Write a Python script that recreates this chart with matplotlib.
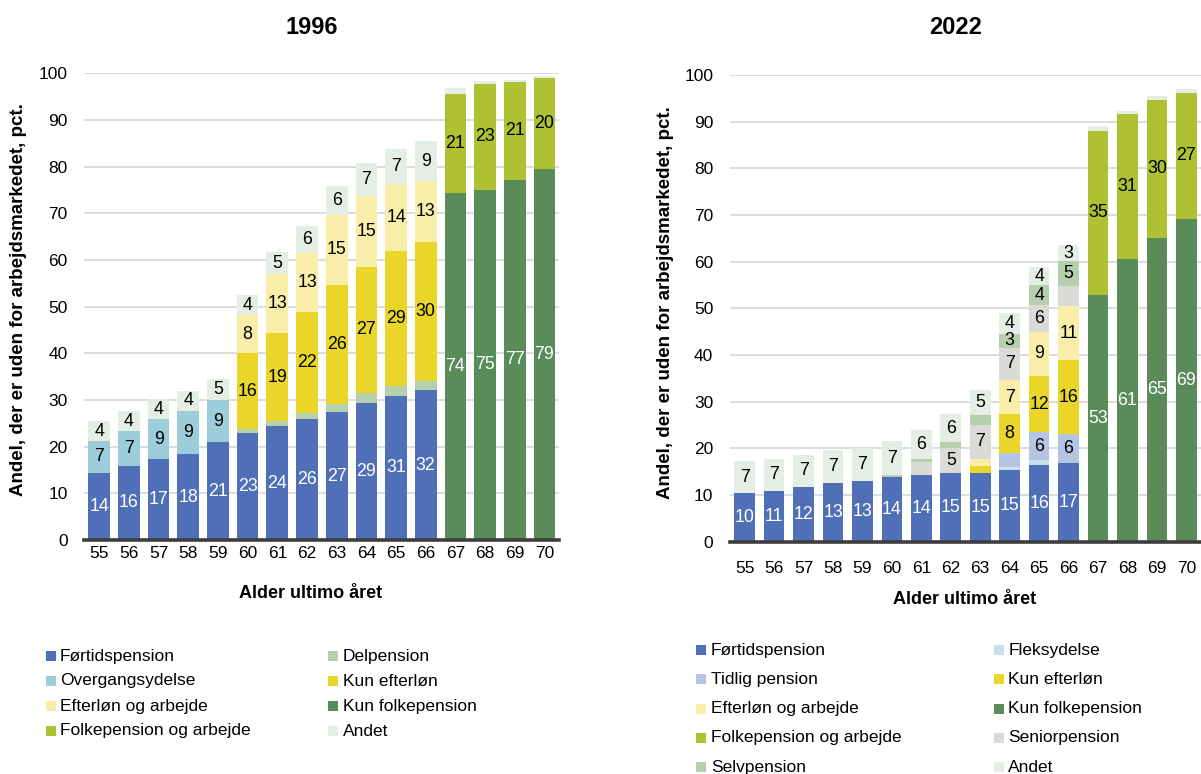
import matplotlib
matplotlib.use("Agg")
import matplotlib.pyplot as plt
from matplotlib.patches import Rectangle
import numpy as np

plt.rcParams['font.family'] = ['Liberation Sans', 'DejaVu Sans']

W, H = 1201, 774

ages = list(range(55, 71))
age_labels = [str(a) for a in ages]

# ---- 1996 (share of each age group outside the labour market, pct.) ----
y96_fortid = [14.4, 15.9, 17.3, 18.4, 20.9, 23.0, 24.4, 25.9, 27.4, 29.4, 30.9, 32.1, 0, 0, 0, 0]
y96_overgang = [6.8, 7.4, 8.6, 9.3, 9.1, 0, 0, 0, 0, 0, 0, 0, 0, 0, 0, 0]
y96_delpension = [0, 0, 0, 0, 0, 0.7, 1.0, 1.3, 1.7, 2.0, 2.1, 2.0, 0, 0, 0, 0]
y96_kun_efterlon = [0, 0, 0, 0, 0, 16.3, 18.9, 21.7, 25.6, 27.2, 28.9, 29.7, 0, 0, 0, 0]
y96_efterlon_arb = [0, 0, 0, 0, 0, 8.2, 12.6, 12.7, 15.0, 15.2, 14.4, 13.1, 0, 0, 0, 0]
y96_kun_folk = [0, 0, 0, 0, 0, 0, 0, 0, 0, 0, 0, 0, 74.3, 75.1, 77.2, 79.4]
y96_folk_arb = [0, 0, 0, 0, 0, 0, 0, 0, 0, 0, 0, 0, 21.3, 22.6, 20.9, 19.6]
y96_andet = [4.3, 4.3, 4.3, 4.2, 4.6, 4.2, 4.9, 5.7, 6.1, 6.9, 7.4, 8.6, 1.2, 0.6, 0.4, 0.5]

# ---- 2022 ----
y22_fortid = [10.4, 10.9, 11.8, 12.6, 13.0, 13.9, 14.3, 14.8, 14.7, 15.4, 16.4, 16.9, 0, 0, 0, 0]
y22_fleks = [0, 0, 0, 0, 0, 0, 0, 0, 0, 0.7, 1.2, 0, 0, 0, 0, 0]
y22_tidlig = [0, 0, 0, 0, 0, 0, 0, 0, 0, 2.9, 5.8, 6.1, 0, 0, 0, 0]
y22_kun_efterlon = [0, 0, 0, 0, 0, 0, 0, 0, 1.5, 8.3, 12.2, 16.0, 0, 0, 0, 0]
y22_efterlon_arb = [0, 0, 0, 0, 0, 0, 0, 0, 1.5, 7.4, 9.4, 11.4, 0, 0, 0, 0]
y22_senior = [0, 0, 0, 0, 0, 0, 2.8, 5.2, 7.4, 6.9, 5.8, 4.3, 0, 0, 0, 0]
y22_selv = [0, 0, 0, 0, 0, 0.3, 0.6, 1.4, 2.1, 3.0, 4.1, 5.4, 0, 0, 0, 0]
y22_kun_folk = [0, 0, 0, 0, 0, 0, 0, 0, 0, 0, 0, 0, 52.9, 60.6, 65.1, 69.1]
y22_folk_arb = [0, 0, 0, 0, 0, 0, 0, 0, 0, 0, 0, 0, 35.1, 31.0, 29.6, 27.1]
y22_andet = [6.9, 6.8, 6.7, 7.0, 7.0, 7.3, 6.2, 5.9, 5.2, 4.3, 4.0, 3.4, 1.0, 0.7, 0.9, 0.7]

colors = {
    "Førtidspension": "#4F70B7",
    "Overgangsydelse": "#9DCCDA",
    "Fleksydelse": "#C6E1E9",
    "Tidlig pension": "#B4C4E2",
    "Delpension": "#B6CFAD",
    "Selvpension": "#B6CFAD",
    "Kun efterløn": "#E9D629",
    "Efterløn og arbejde": "#F8EEAA",
    "Seniorpension": "#DADAD7",
    "Kun folkepension": "#598C59",
    "Folkepension og arbejde": "#ADC133",
    "Andet": "#E4EEE5",
}
white_text = {"Førtidspension", "Kun folkepension"}

series96 = [
    ("Førtidspension", y96_fortid),
    ("Overgangsydelse", y96_overgang),
    ("Delpension", y96_delpension),
    ("Kun efterløn", y96_kun_efterlon),
    ("Efterløn og arbejde", y96_efterlon_arb),
    ("Kun folkepension", y96_kun_folk),
    ("Folkepension og arbejde", y96_folk_arb),
    ("Andet", y96_andet),
]
series22 = [
    ("Førtidspension", y22_fortid),
    ("Fleksydelse", y22_fleks),
    ("Tidlig pension", y22_tidlig),
    ("Kun efterløn", y22_kun_efterlon),
    ("Efterløn og arbejde", y22_efterlon_arb),
    ("Seniorpension", y22_senior),
    ("Selvpension", y22_selv),
    ("Kun folkepension", y22_kun_folk),
    ("Folkepension og arbejde", y22_folk_arb),
    ("Andet", y22_andet),
]
# segments whose value is not printed
unlabeled22 = {("Seniorpension", 66)}

legend96 = ["Førtidspension", "Delpension", "Overgangsydelse", "Kun efterløn",
            "Efterløn og arbejde", "Kun folkepension", "Folkepension og arbejde", "Andet"]
legend22 = ["Førtidspension", "Fleksydelse", "Tidlig pension", "Kun efterløn",
            "Efterløn og arbejde", "Kun folkepension", "Folkepension og arbejde",
            "Seniorpension", "Selvpension", "Andet"]

FS = 12.5
ylabel_text = "Andel, der er uden for arbejdsmarkedet, pct."


def px_axes(x0, x1, y_top, y_bot):
    return [x0 / W, 1 - y_bot / H, (x1 - x0) / W, (y_bot - y_top) / H]


def draw_panel(ax, series, width, hidden=frozenset()):
    x = np.array(ages)
    bottom = np.zeros(len(ages))
    for name, vals in series:
        vals = np.array(vals, dtype=float)
        ax.bar(x, vals, width=width, bottom=bottom, color=colors[name],
               linewidth=0, zorder=2)
        tc = "white" if name in white_text else "black"
        for xi, b, v in zip(x, bottom, vals):
            if v >= 3 and (name, xi) not in hidden:
                ax.text(xi, b + v / 2, f"{v:.0f}", ha="center", va="center",
                        fontsize=FS + 0.3, color=tc, zorder=3)
        bottom = bottom + vals
    ax.set_xlim(54.5, 70.5)
    ax.set_ylim(0, 100)
    ax.set_yticks(range(0, 101, 10))
    ax.set_xticks(ages)
    ax.set_xticklabels(age_labels)
    ax.grid(axis="y", color="#D9D9D9", linewidth=1.3, zorder=0)
    ax.set_axisbelow(True)
    for s in ("left", "right", "top"):
        ax.spines[s].set_visible(False)
    ax.spines["bottom"].set_color("#3D3D3D")
    ax.spines["bottom"].set_linewidth(2.6)
    ax.spines["bottom"].set_zorder(4)
    ax.tick_params(axis="both", length=0, labelsize=FS, colors="black")
    ax.tick_params(axis="y", pad=12)


def draw_legend(fig, names, marker_x, text_x, row_y):
    for i, name in enumerate(names):
        r, c = divmod(i, 2)
        y = row_y[r]
        fig.patches.append(Rectangle((marker_x[c] / W, 1 - (y + 5) / H), 10 / W, 10 / H,
                                     transform=fig.transFigure, color=colors[name],
                                     linewidth=0))
        fig.text(text_x[c] / W, 1 - y / H, name, ha="left", va="center", fontsize=FS)


fig = plt.figure(figsize=(W / 100, H / 100), dpi=100)

ax1 = fig.add_axes(px_axes(84.4, 559.3, 73.3, 540.0))
draw_panel(ax1, series96, 0.73)
ax1.tick_params(axis="x", pad=4)
ax1.set_xlabel("Alder ultimo året", fontsize=13, fontweight="bold", va="center")
ax1.xaxis.set_label_coords((311 - 84.4) / 474.9, -(593 - 540) / 466.7)
ax1.set_ylabel(ylabel_text, fontsize=13.5, fontweight="bold", va="center", ha="center")
ax1.yaxis.set_label_coords(-(84.4 - 19) / 474.9, (540 - 300) / 466.7)

ax2 = fig.add_axes(px_axes(730.0, 1201.0, 75.0, 541.7))
draw_panel(ax2, series22, 0.70, unlabeled22)
ax2.tick_params(axis="x", pad=14)
ax2.set_xlabel("Alder ultimo året", fontsize=13, fontweight="bold", va="center")
ax2.xaxis.set_label_coords((965 - 730) / 471, -(600 - 541.7) / 466.7)
ax2.set_ylabel(ylabel_text, fontsize=13.5, fontweight="bold", va="center", ha="center")
ax2.yaxis.set_label_coords(-(730 - 665) / 471, (541.7 - 303) / 466.7)

fig.text(311.7 / W, 1 - 27.5 / H, "1996", ha="center", va="center",
         fontsize=17, fontweight="bold")
fig.text(956 / W, 1 - 27.5 / H, "2022", ha="center", va="center",
         fontsize=17, fontweight="bold")

draw_legend(fig, legend96, [46, 328], [60, 342.7], [656, 681, 706, 731])
draw_legend(fig, legend22, [696, 994], [710.7, 1008.3], [650, 679.3, 708.6, 737.9, 767.2])

fig.savefig("out.png", dpi=100)
